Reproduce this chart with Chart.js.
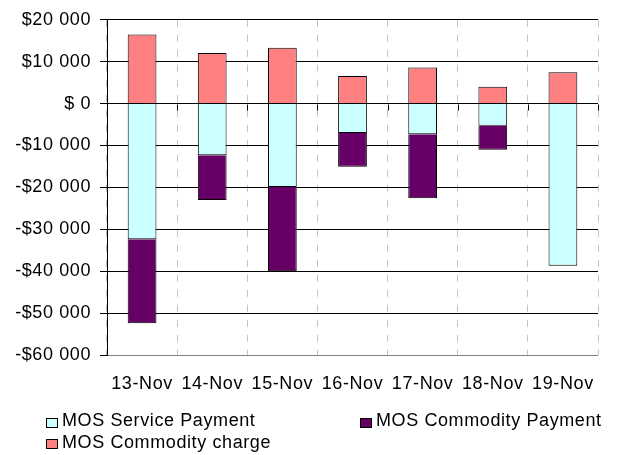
<!DOCTYPE html>
<html>
<head>
<meta charset="utf-8">
<script src="https://cdn.jsdelivr.net/npm/chart.js@4"></script>
<style>
  body { margin: 0; background: #fff; }
  #wrap { position: relative; width: 618px; height: 455px; font-family: "Liberation Sans", Arial, sans-serif; }
  .leg { position: absolute; font-size: 18px; letter-spacing: 0.6px; color: #000; white-space: nowrap; line-height: 20px; }
  .box { position: absolute; width: 10px; height: 8px; border: 1px solid #000; }
</style>
</head>
<body>
<div id="wrap">
  <canvas id="chart" width="618" height="455"></canvas>
  <div class="box" style="left:46px; top:418px; background:#CCFFFF"></div>
  <div class="leg" style="left:62px; top:410px;">MOS Service Payment</div>
  <div class="box" style="left:360px; top:418px; background:#660066"></div>
  <div class="leg" style="left:376px; top:410px;">MOS Commodity Payment</div>
  <div class="box" style="left:46px; top:439px; background:#FF8080"></div>
  <div class="leg" style="left:62px; top:432px;">MOS Commodity charge</div>
</div>
<script>
const days = ['13-Nov', '14-Nov', '15-Nov', '16-Nov', '17-Nov', '18-Nov', '19-Nov'];
const servicePayment = [-32400, -12300, -19900, -7000, -7300, -5300, -38700];
const commodityPayment = [-20000, -10700, -20100, -8100, -15300, -5700, 0];
const commodityCharge = [16500, 12100, 13300, 6600, 8600, 4000, 7500];

function money(v) {
  if (v === 0) return '$ 0';
  const s = Math.abs(v).toString().replace(/\B(?=(\d{3})+(?!\d))/g, ' ');
  return (v < 0 ? '-' : '') + '$' + s;
}

// the reference text is a bit wider than plain Arial, so open it up a little
const spacing = {
  id: 'spacing',
  beforeLayout(chart) { chart.ctx.letterSpacing = '0.6px'; },
  beforeDraw(chart) { chart.ctx.letterSpacing = '0.6px'; }
};

// small tick marks on the zero line between categories
const zeroTicks = {
  id: 'zeroTicks',
  afterDatasetsDraw(chart) {
    const x = chart.scales.x, y = chart.scales.y;
    const y0 = Math.round(y.getPixelForValue(0)) + 0.5;
    const ctx = chart.ctx;
    ctx.save();
    ctx.strokeStyle = '#000';
    ctx.lineWidth = 1;
    for (let i = 0; i <= days.length; i++) {
      const px = Math.round(x.getPixelForValue(i - 0.5)) + 0.5;
      ctx.beginPath();
      ctx.moveTo(px, y0);
      ctx.lineTo(px, y0 + 6);
      ctx.stroke();
    }
    ctx.restore();
  }
};

new Chart(document.getElementById('chart'), {
  type: 'bar',
  data: {
    labels: days,
    datasets: [
      { label: 'MOS Service Payment', data: servicePayment, backgroundColor: '#CCFFFF', borderColor: '#000', borderWidth: 1 },
      { label: 'MOS Commodity Payment', data: commodityPayment, backgroundColor: '#660066', borderColor: '#000', borderWidth: 1 },
      { label: 'MOS Commodity charge', data: commodityCharge, backgroundColor: '#FF8080', borderColor: '#000', borderWidth: 1 }
    ]
  },
  options: {
    responsive: false,
    animation: false,
    layout: { padding: { top: 18, right: 20, left: 0, bottom: 0 } },
    plugins: { legend: { display: false }, tooltip: { enabled: false } },
    datasets: { bar: { categoryPercentage: 1, barPercentage: 0.41 } },
    scales: {
      x: {
        stacked: true,
        offset: true,
        grid: { offset: true, color: '#c4c4c4', drawTicks: false },
        border: { display: false, dash: [7, 8] },
        ticks: { color: '#000', font: { family: 'Liberation Sans', size: 18 }, padding: 18, maxRotation: 0 },
        afterFit(scale) { scale.height = 100; }
      },
      y: {
        stacked: true,
        min: -60000,
        max: 20000,
        ticks: { stepSize: 10000, color: '#000', font: { family: 'Liberation Sans', size: 18 }, padding: 9, callback: v => money(v) },
        grid: {
          color: c => (c.tick && c.tick.value === -60000) ? '#808080' : '#000',
          tickColor: '#000',
          tickLength: 7
        },
        border: { display: true, color: '#000' },
        afterFit(scale) { scale.width = 107; }
      }
    }
  },
  plugins: [spacing, zeroTicks]
});
</script>
</body>
</html>
